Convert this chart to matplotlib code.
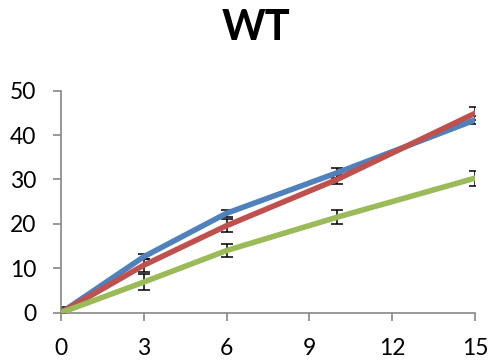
import numpy as np
import matplotlib.pyplot as plt

plt.rcParams['font.family'] = ['Lato', 'DejaVu Sans']

tiempo = [0, 3, 6, 10, 15]
serie_azul = [0.0, 12.6, 22.4, 31.5, 43.4]
serie_roja = [0.0, 10.7, 19.6, 30.0, 44.9]
serie_verde = [0.0, 6.9, 14.0, 21.5, 30.3]
err_azul = [0.0, 0.6, 0.8, 1.2, 1.0]
err_roja = [1.2, 1.5, 1.4, 1.1, 1.5]
err_verde = [0.0, 1.8, 1.4, 1.6, 1.7]

fig = plt.figure(figsize=(4.94, 3.6), dpi=100)
ax = fig.add_axes([61 / 494, 1 - 312.7 / 360, 414 / 494, 222 / 360])

series = [(serie_azul, err_azul, '#4F81BD'),
          (serie_roja, err_roja, '#C0504D'),
          (serie_verde, err_verde, '#9BBB59')]

# barras de error debajo de las curvas
for y, e, c in series:
    ax.errorbar(tiempo, y, yerr=e, fmt='none', ecolor='black',
                elinewidth=1.1, capsize=4.5, capthick=1.1, zorder=2)
for y, e, c in series:
    ax.plot(tiempo, y, color=c, linewidth=4, solid_capstyle='round',
            zorder=3)

ax.set_xlim(0, 15)
ax.set_ylim(0, 50)
ax.set_xticks([0, 3, 6, 9, 12, 15])
ax.set_yticks([0, 10, 20, 30, 40, 50])

for s in ['top', 'right']:
    ax.spines[s].set_visible(False)
for s in ['left', 'bottom']:
    ax.spines[s].set_color('#868686')
    ax.spines[s].set_linewidth(1.2)
ax.tick_params(direction='out', length=6, width=1.2, color='#868686',
               labelsize=16.5, pad=12)
ax.patch.set_alpha(0)

fig.text(256 / 494, 1 - 28 / 360, 'WT', ha='center', va='center',
         fontsize=30, fontweight='bold')

plt.savefig('out.png', dpi=100)
